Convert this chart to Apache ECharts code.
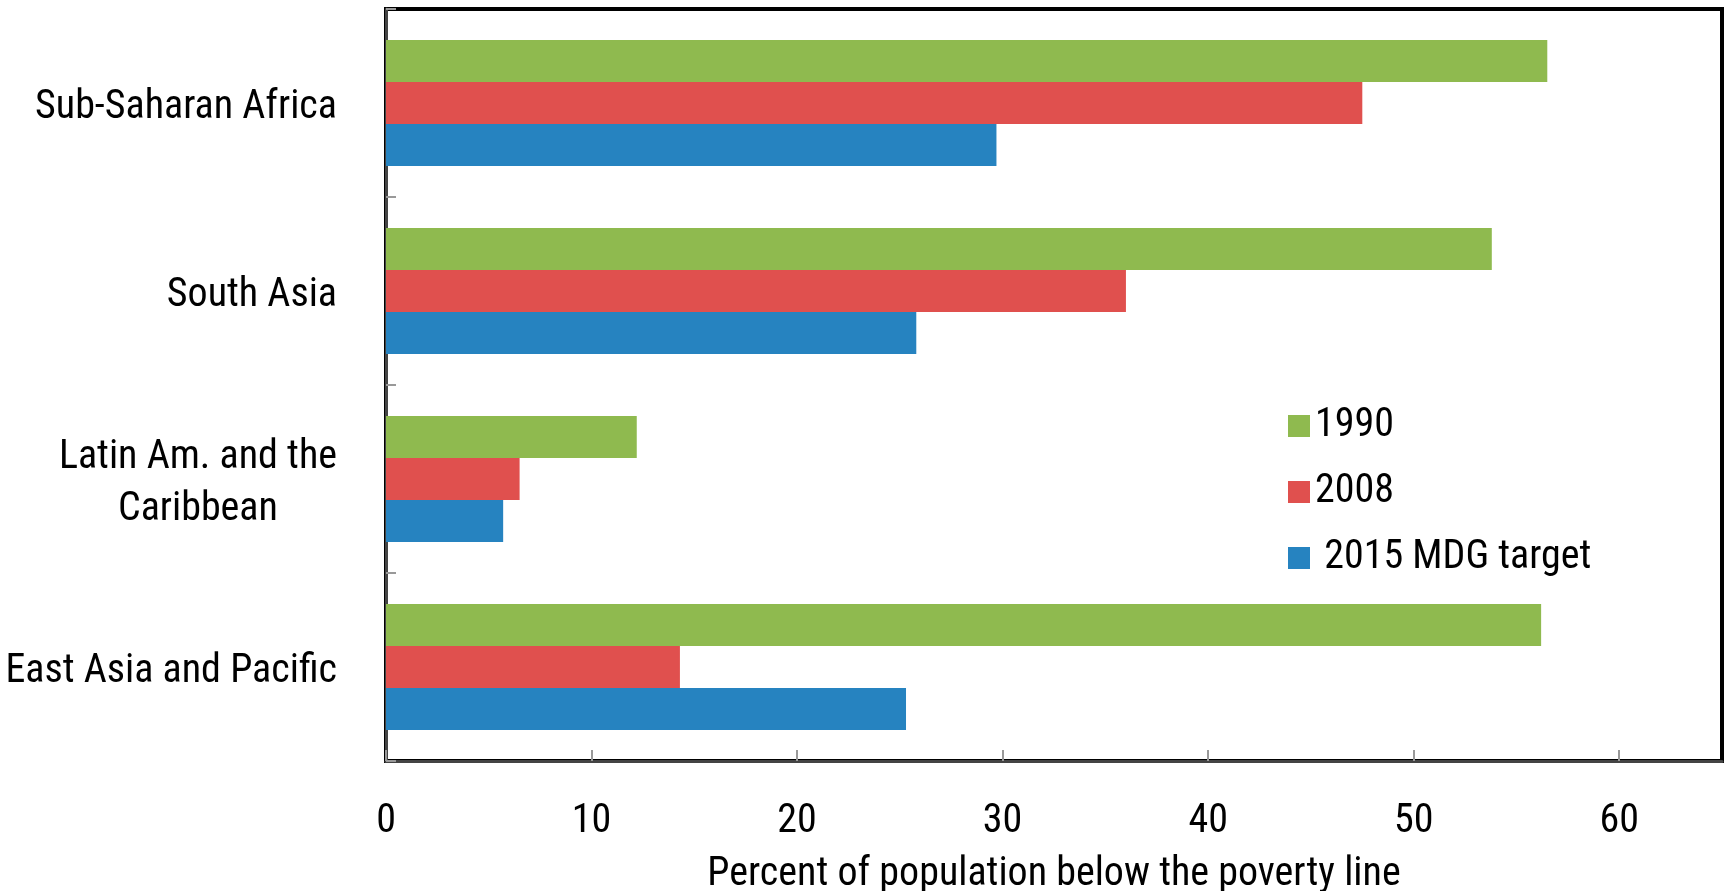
<!DOCTYPE html>
<html>
<head>
<meta charset="utf-8">
<script src="https://cdn.jsdelivr.net/npm/echarts@6/dist/echarts.min.js"></script>
<style>
html,body{margin:0;padding:0;background:#fff;}
#chart{width:1729px;height:891px;}
</style>
</head>
<body>
<div id="chart"></div>
<script>
const categories = ['Sub-Saharan Africa', 'South Asia', 'Latin Am. and the\nCaribbean', 'East Asia and Pacific'];
const seriesNames = ['1990', '2008', ' 2015 MDG target'];
const values1990 = [56.5, 53.8, 12.2, 56.2];
const values2008 = [47.5, 36.0, 6.5, 14.3];
const valuesTarget = [29.7, 25.8, 5.7, 25.3];
const xTicks = [0, 10, 20, 30, 40, 50, 60];
const xTitle = 'Percent of population below the poverty line';

const FONT = "'Roboto Condensed', 'Liberation Sans', Arial, sans-serif";
const FS = 40;
const colors = ['#8FBA4F', '#E0504E', '#2683C0'];
const chart = echarts.init(document.getElementById('chart'));

function mkSeries(name, data, color) {
  return {
    name: name,
    type: 'bar',
    data: data,
    barGap: '0%',
    barCategoryGap: '33%',
    itemStyle: { color: color },
    emphasis: { disabled: true }
  };
}

chart.setOption({
  animation: false,
  textStyle: { fontFamily: FONT },
  grid: {
    left: 386, right: 7, top: 9, bottom: 130,
    containLabel: false,
    outerBoundsMode: 'none',
    show: true, borderColor: '#000', borderWidth: 4, backgroundColor: 'transparent'
  },
  legend: {
    data: seriesNames,
    orient: 'vertical',
    left: 1283,
    top: 399,
    itemWidth: 22,
    itemHeight: 22,
    itemGap: 22,
    icon: 'rect',
    textStyle: { fontFamily: FONT, fontSize: FS, color: '#000', lineHeight: 44 }
  },
  xAxis: {
    type: 'value',
    min: 0,
    max: 65,
    interval: 10,
    name: xTitle,
    nameLocation: 'middle',
    nameGap: 94,
    nameTextStyle: { fontFamily: FONT, fontSize: FS, color: '#000' },
    axisLine: { show: true, lineStyle: { color: '#444', width: 3 } },
    axisTick: { show: true, inside: true, length: 11, lineStyle: { color: '#999', width: 2 } },
    axisLabel: {
      fontFamily: FONT, fontSize: FS, color: '#000', margin: 41,
      formatter: function (v) { return xTicks.indexOf(v) >= 0 ? String(v) : ''; },
      showMaxLabel: false
    },
    splitLine: { show: false }
  },
  yAxis: {
    type: 'category',
    data: categories,
    inverse: true,
    axisLine: { show: true, lineStyle: { color: '#444', width: 3 } },
    axisTick: { show: true, inside: true, length: 10, lineStyle: { color: '#999', width: 2 } },
    axisLabel: {
      fontFamily: FONT, fontSize: FS, color: '#000', margin: 49, lineHeight: 52,
      padding: [9, 0, 0, 0],
      formatter: function (v) {
        return v.split('\n').map(function (s) { return '{c|' + s + '}'; }).join('\n');
      },
      rich: { c: { align: 'center', fontFamily: FONT, fontSize: FS, color: '#000', lineHeight: 52 } }
    },
    splitLine: { show: false }
  },
  series: [
    mkSeries(seriesNames[0], values1990, colors[0]),
    mkSeries(seriesNames[1], values2008, colors[1]),
    mkSeries(seriesNames[2], valuesTarget, colors[2])
  ]
});
</script>
</body>
</html>
